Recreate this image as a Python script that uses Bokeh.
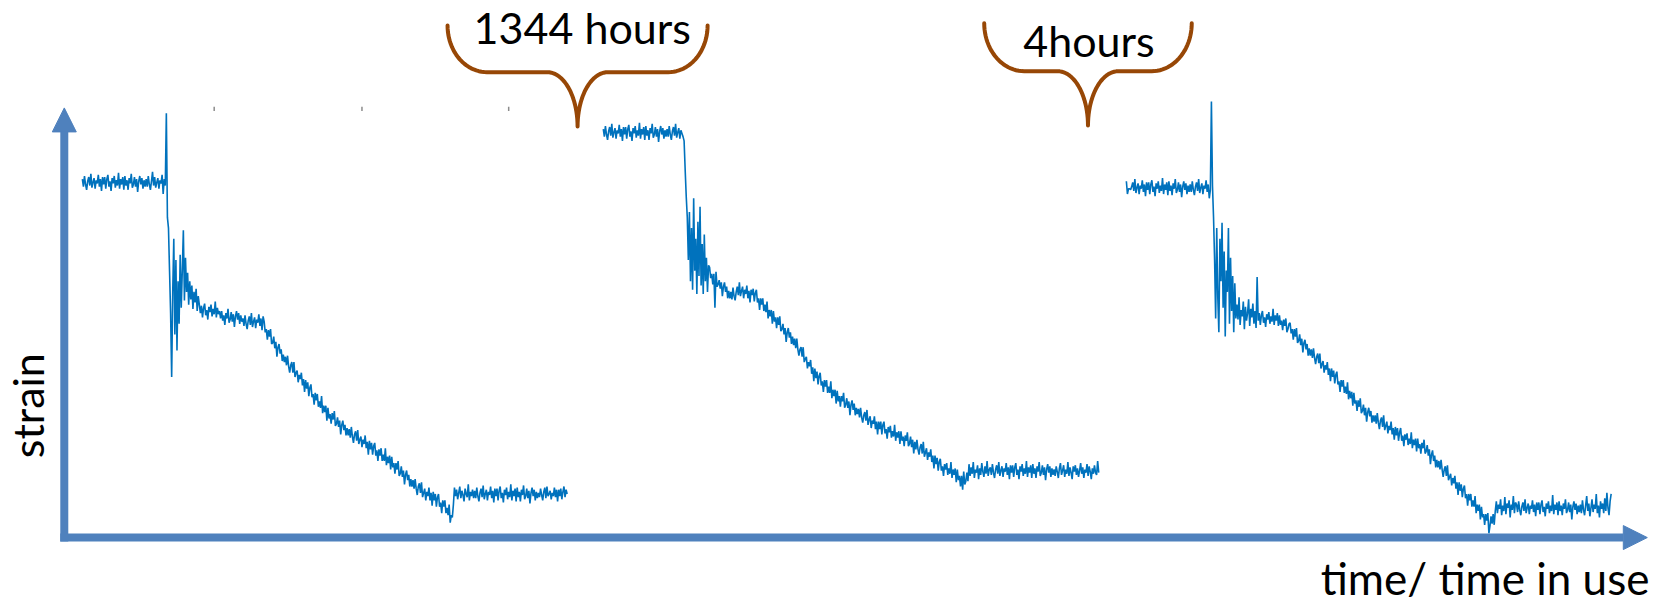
import numpy as np
from bokeh.plotting import figure
from bokeh.models import Range1d, Arrow, NormalHead, Label
from bokeh.embed import file_html
from bokeh.resources import INLINE

# Strain traces (arbitrary units), one sample per time unit.
SAMPLE_STEP = 1.0

# first loading cycle
seg1_start = 17.0
seg1_strain = [
    # before loading
    336, 329, 339, 331, 326, 334, 338, 330, 341, 328, 333, 337, 327, 335, 332, 340, 329, 336, 325, 338,
    331, 338, 327, 336, 340, 329, 334, 325, 337, 332, 339, 328, 335, 330, 342, 327, 336, 331, 338, 326,
    339, 330, 335, 326, 337, 332, 341, 328, 331, 338, 329, 336, 324, 334, 339, 331, 337, 327, 335, 329,
    336, 329, 339, 331, 326, 334, 343, 330, 338, 328, 333, 337, 327, 335, 332, 340, 322, 336, 330,
    # load step
    398, 300, 290, 250, 210, 150, 230, 280, 190, 260, 175, 240, 200, 265, 215, 250,
    288, 222, 262, 230, 248, 218, 240, 223, 236, 214, 230, 220, 233, 212, 226, 218,
    # relaxation
    210, 217, 206, 215, 219, 208, 213, 204, 216, 211, 218, 207, 214, 209, 221, 206, 215, 209, 212, 205,
    212, 203, 208, 199, 210, 205, 214, 201, 204, 211, 202, 209, 197, 207, 212, 204, 210, 200, 208, 202,
    205, 198, 208, 200, 195, 203, 207, 199, 210, 197, 202, 206, 196, 204, 201, 209, 198, 205, 194, 207,
    202, 192, 195, 185, 194, 188, 195, 181, 182, 188, 177, 183, 169, 178, 181, 172, 176, 165, 171, 164,
    169, 161, 170, 160, 154, 161, 164, 154, 164, 150, 154, 156, 145, 152, 148, 154, 142, 148, 136, 147,
    139, 145, 132, 140, 143, 131, 134, 124, 135, 128, 134, 122, 127, 121, 132, 116, 123, 117, 123, 109,
    121, 111, 115, 106, 116, 110, 118, 104, 106, 112, 103, 109, 96, 105, 109, 100, 105, 95, 102, 95,
    101, 93, 103, 94, 88, 96, 99, 90, 100, 87, 91, 94, 84, 91, 87, 95, 83, 89, 77, 90,
    82, 88, 77, 85, 88, 76, 81, 71, 82, 76, 83, 71, 77, 71, 83, 67, 75, 69, 76, 63,
    75, 65, 69, 59, 69, 63, 71, 57, 59, 66, 56, 62, 49, 58, 62, 53, 58, 47, 54, 47,
    53, 45, 54, 45, 39, 47, 50, 41, 51, 37, 41, 45, 34, 42, 38, 46, 34, 41, 29, 42,
    34, 40, 28, 37, 40, 28, 32, 22, 34, 28, 34, 22, 27, 20, 30, 13, 20, 18,
    # unloaded
    30, 46, 38, 44, 35, 41, 47, 36, 43, 39, 33, 45, 40, 37, 49, 34, 42, 38, 44, 36,
    43, 36, 46, 38, 33, 41, 45, 37, 48, 35, 40, 44, 34, 42, 39, 47, 36, 43, 32, 45,
    38, 45, 34, 43, 47, 36, 41, 32, 44, 39, 46, 35, 42, 37, 49, 34, 43, 38, 45, 33,
    46, 37, 42, 33, 44, 39, 48, 35, 38, 45, 36, 43, 31, 41, 46, 38, 44, 34, 42, 36,
    41, 37, 45, 39, 34, 42, 46, 36, 47, 38, 40, 43, 35, 41, 38, 46, 37, 44, 33, 44,
    38, 45, 35, 42, 47, 37, 44, 40,
]

# second loading cycle (after 1344 hours)
seg2_start = 507.0
seg2_strain = [
    383, 376, 386, 378, 373, 381, 385, 377, 388, 375, 380, 384, 374, 382, 379, 387, 376, 383, 372, 385,
    378, 385, 374, 383, 387, 376, 381, 372, 384, 379, 386, 375, 382, 377, 389, 374, 383, 378, 385, 373,
    386, 377, 382, 373, 384, 379, 388, 375, 378, 385, 376, 383, 371, 381, 386, 378, 384, 374, 382, 376,
    383, 376, 386, 378, 373, 381, 385, 377, 388, 375, 380, 384, 374, 382, 379, 376,
    372, 345, 320, 300, 260, 305, 240, 290, 232, 318, 250, 280,
    228, 296, 245, 310, 236, 275, 228, 284, 240, 262, 230, 255,
    253, 243, 247, 237, 247, 215, 249, 235, 237, 241, 233, 239, 226, 235, 239, 230, 235, 224, 231, 224,
    230, 223, 234, 226, 222, 230, 235, 227, 239, 226, 231, 235, 224, 232, 228, 236, 224, 231, 220, 232,
    227, 233, 221, 229, 232, 220, 224, 213, 224, 218, 224, 212, 218, 211, 221, 205, 213, 207, 213, 200,
    212, 202, 206, 196, 206, 199, 207, 193, 195, 200, 190, 196, 183, 192, 196, 187, 192, 181, 188, 180,
    186, 177, 186, 176, 170, 176, 178, 169, 178, 164, 167, 169, 158, 164, 160, 166, 153, 159, 146, 158,
    149, 155, 143, 151, 154, 142, 146, 136, 147, 141, 147, 135, 141, 135, 146, 130, 138, 132, 138, 125,
    137, 127, 132, 122, 132, 127, 135, 121, 124, 130, 121, 127, 114, 124, 128, 119, 125, 114, 121, 115,
    120, 112, 121, 112, 107, 114, 117, 109, 119, 105, 110, 113, 102, 109, 106, 113, 101, 108, 96, 108,
    101, 108, 96, 105, 108, 97, 101, 92, 103, 98, 104, 93, 99, 94, 105, 90, 98, 93, 99, 87,
    99, 90, 94, 85, 95, 90, 98, 85, 87, 94, 84, 91, 78,
    89, 82, 91, 82, 77, 84, 87, 78, 89, 75, 79, 83, 72, 79, 75, 82, 70, 76, 64, 76,
    68, 74, 62, 70, 73, 62, 66, 57, 68, 63, 69, 58, 64, 59, 70, 55, 63, 58, 64, 51,
    63, 53, 57, 47, 57, 44, 61, 49, 52, 60, 52,
    68, 57, 65, 59, 70, 55, 63, 60, 67, 54, 64, 58, 69, 61, 56, 66, 59, 71, 57, 63,
    65, 58, 68, 60, 55, 63, 67, 59, 70, 57, 62, 66, 56, 64, 61, 69, 58, 65, 54, 67,
    60, 67, 56, 65, 69, 58, 63, 54, 66, 61, 68, 57, 64, 59, 71, 56, 65, 60, 67, 55,
    68, 59, 64, 55, 66, 61, 70, 57, 60, 67, 58, 65, 53, 63, 68, 60, 66, 56, 64, 58,
    63, 57, 66, 61, 55, 64, 69, 58, 62, 67, 56, 63, 59, 70, 57, 65, 60, 54, 66, 61,
    67, 58, 64, 56, 62, 69, 59, 65, 55, 63, 60, 68, 57, 66, 61, 54, 64, 59, 67, 60,
    58, 71, 60,
]

# third loading cycle (after 4 hours)
seg3_start = 999.0
seg3_strain = [
    334, 322, 327, 327, 326, 329, 333, 325, 336, 323, 328, 332, 322, 330, 327, 335, 324, 331, 320, 333,
    326, 333, 322, 331, 335, 324, 329, 320, 332, 327, 334, 323, 330, 325, 337, 322, 331, 326, 333, 321,
    334, 325, 330, 321, 332, 327, 336, 323, 326, 333, 324, 331, 319, 329, 334, 326, 332, 322, 330, 324,
    331, 324, 334, 326, 321, 329, 333, 325, 336, 323, 328, 332, 322, 330, 327, 335, 324, 331, 318, 326,
    409, 330, 300, 260, 205, 290, 225, 192, 280, 240, 295, 215,
    268, 188, 250, 230, 290, 200, 262, 212, 245, 192, 238, 205,
    218, 204, 225, 199, 213, 207, 221, 195, 216, 203, 210, 223, 198, 214, 206, 219, 200, 212, 196, 244,
    203, 210, 199, 208, 212, 201, 206, 197, 209, 204, 211, 200, 207, 202, 214, 199, 208, 203, 210, 198,
    208, 199, 203, 194, 204, 198, 205, 192, 195, 200,
    201, 191, 195, 185, 195, 188, 196, 182, 184, 190, 180, 186, 173, 182, 185, 176, 181, 170, 177, 170,
    176, 168, 177, 168, 162, 169, 172, 163, 172, 158, 162, 165, 154, 161, 157, 164, 152, 158, 146, 158,
    150, 156, 144, 152, 155, 143, 146, 136, 147, 141, 147, 135, 141, 134, 145, 129, 137, 130, 136, 123,
    135, 125, 128, 118, 128, 122, 130, 116, 118, 124, 114, 121, 108, 117, 121, 113, 118, 107, 114, 108,
    114, 106, 116, 107, 101, 109, 112, 103, 114, 100, 104, 108, 97, 104, 100, 108, 96, 102, 91, 103,
    95, 102, 90, 98, 102, 90, 95, 85, 96, 91, 97, 86, 92, 87, 98, 83, 91, 86, 92, 80,
    92, 83, 87, 78, 88, 83, 91, 78, 80, 86, 76, 82, 68, 77, 81, 71, 76, 65, 72, 65,
    71, 63, 72, 63, 56, 63, 66, 57, 67, 53, 56, 59, 48, 55, 50, 57, 45, 51, 39, 51,
    43, 49, 37, 45, 48, 36, 40, 29, 40, 34, 40, 28, 34, 28, 38, 22, 30, 24, 30, 16,
    28, 18, 21, 11, 21, 15, 22, 3, 10, 19, 12, 21, 11,
    24, 33, 22, 30, 26, 35, 20, 29, 24, 37, 21, 31, 27, 34, 18, 30, 25, 38, 22, 32,
    30, 23, 33, 25, 20, 28, 32, 24, 35, 22, 27, 31, 21, 29, 26, 34, 23, 30, 19, 32,
    25, 32, 21, 30, 34, 23, 28, 19, 31, 26, 33, 22, 29, 24, 39, 21, 30, 25, 32, 20,
    33, 24, 29, 20, 31, 26, 35, 22, 25, 32, 23, 30, 16, 28, 33, 25, 31, 21, 29, 23,
    30, 22, 34, 25, 20, 29, 38, 24, 31, 19, 27, 35, 23, 30, 26, 40, 22, 29, 18, 33,
    26, 31, 22, 36, 24, 41, 27, 20, 33, 40,
]

segments = [
    (seg1_start, seg1_strain),
    (seg2_start, seg2_strain),
    (seg3_start, seg3_strain),
]

# stray tick marks of the original time axis
tick_times = [141, 280, 418]

# gap annotations: label and the time where the brace points
gap_labels = ["1344 hours", "4hours"]
gap_tip_time = [482.8, 962.9]

TRACE = "#0072BD"
AXIS = "#4F81BD"
BRACE = "#974706"
FONT = "Lato"

p = figure(
    width=1667, height=603,
    x_range=Range1d(-60, 1508), y_range=Range1d(-63, 504),
    output_backend="svg", toolbar_location=None,
    min_border=0, outline_line_color=None,
    x_axis_location=None, y_axis_location=None,
    background_fill_color="white", border_fill_color="white",
)
p.xgrid.visible = False
p.ygrid.visible = False

# strain traces
for start, strain in segments:
    t = start + SAMPLE_STEP * np.arange(len(strain))
    p.line(t, strain, line_color=TRACE, line_width=1.6)

# tick remnants
p.segment(x0=tick_times, y0=[400] * len(tick_times), x1=tick_times, y1=[404] * len(tick_times),
          line_color="#8C8C8C", line_width=1.5)

# axes drawn as arrows
p.add_layout(Arrow(end=NormalHead(size=24, fill_color=AXIS, line_color=AXIS, line_width=1),
                   x_start=-3.8, y_start=-1, x_end=1489, y_end=-1,
                   line_color=AXIS, line_width=8))
p.add_layout(Arrow(end=NormalHead(size=24, fill_color=AXIS, line_color=AXIS, line_width=1),
                   x_start=0, y_start=-4.8, x_end=0, y_end=403,
                   line_color=AXIS, line_width=8))


def brace_path(tip_t, tip_s, half, top_s, mid_s, arm, low):
    """Curly brace opening upwards with its point at (tip_t, tip_s)."""
    n = 24
    left = tip_t - half
    a = np.linspace(np.pi, 1.5 * np.pi, n)
    x1 = (left + arm) + arm * np.cos(a)
    y1 = top_s + (top_s - mid_s) * np.sin(a)
    b = np.linspace(0.5 * np.pi, 0.0, n)
    x2 = (tip_t - low) + low * np.cos(b)
    y2 = tip_s + (mid_s - tip_s) * np.sin(b)
    xl = np.concatenate([x1, x2])
    yl = np.concatenate([y1, y2])
    xr = 2 * tip_t - xl[::-1]
    yr = yl[::-1]
    return np.concatenate([xl, xr]), np.concatenate([yl, yr])


brace_shapes = [
    dict(tip_s=385.5, half=122.3, top_s=480.5, mid_s=436.6, arm=37.0, low=28.5),
    dict(tip_s=386.4, half=97.6, top_s=482.6, mid_s=437.5, arm=37.6, low=28.5),
]
for tip_t, shape in zip(gap_tip_time, brace_shapes):
    bx, by = brace_path(tip_t, **shape)
    p.line(bx, by, line_color=BRACE, line_width=4, line_cap="round", line_join="round")

# texts
label_pos = [(487.2, 479.0), (963.8, 466.5)]
for txt, (lx, ly) in zip(gap_labels, label_pos):
    p.add_layout(Label(x=lx, y=ly, text=txt, text_align="center", text_baseline="alphabetic",
                       text_font=FONT, text_font_size="43px", text_color="black"))

p.add_layout(Label(x=1491, y=-39, text="time/ time in use", text_align="right",
                   text_baseline="alphabetic", text_font=FONT, text_font_size="44px",
                   text_color="black"))
p.add_layout(Label(x=-35, y=123, text="strain", angle=np.pi / 2, text_align="center",
                   text_baseline="alphabetic", text_font=FONT, text_font_size="43px",
                   text_color="black"))

open("out.html", "w").write(file_html(p, INLINE))
